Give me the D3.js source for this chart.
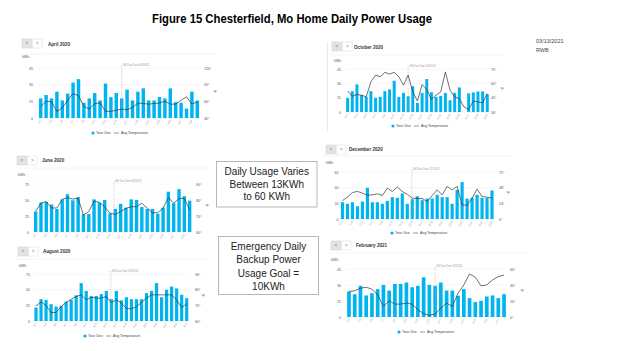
<!DOCTYPE html>
<html><head><meta charset="utf-8">
<script src="https://cdn.jsdelivr.net/npm/d3@7"></script>
<style>body{margin:0;background:#fff}svg{display:block}</style>
</head><body><svg id="c" width="624" height="351"></svg>
<script>
// ---------- DATA ----------
const aprilUse = [17.6,20.7,17.6,23.7,15.8,21.9,31.9,35,13.7,17.6,22.5,15.8,31,18.8,22.5,17.6,25.5,15.8,23.7,26.7,15.8,15.8,18.8,17.6,26.7,14.3,13.7,8.5,23.7,15.8];
const aprilTemp = [51,60,59,42,48,62,74,70,51,46,56,57,42,42,44,46,45,49,57,56,55,56,57,60,55,55,62,68,55,59];
const aprilUseTicks = [0,15,30,45];
const aprilTempTicks = [30,60,90,120];

const juneUse = [32,46,47,43,36,51,59,49.5,54.7,27.6,28,51,46,50,29,36,44,38,51,50,39,36,36,28.6,38,63,45,67,56,49];
const juneTemp = [73,78,79,75,75,80.4,81.5,80.6,81,70.6,72.7,79.4,78.5,75.8,71.7,71,72.7,74.8,75.8,75.8,78,75,72,72,75,81.5,78,81,81,73.7];
const juneUseTicks = [0,25,50,75];
const juneTempTicks = [60,70,80,90];

const augustUse = [21.4,34.8,33.7,26.8,23,24,31,33.7,41,60.5,48,39.6,40,43,48,35,48,33,38,34.8,34.8,34.8,44.5,48,60.5,38,49.8,55,52,41.8,36.4];
const augustTemp = [69.6,72.2,69.9,65.4,65.4,69.2,71.8,73.9,75.6,76.7,73.5,75.2,74.6,74.6,75.6,71.8,73.5,71.4,68,67.7,69.2,71.8,74.6,76.7,76.7,76.7,76.7,76.7,73.5,68.6,71];
const augustUseTicks = [0,25,50,75];
const augustTempTicks = [60,70,80,90];

const octoberUse = [14.8,21.8,28.8,17.6,15.8,21.8,14.8,15.8,21.8,23.6,32.7,15.8,20,16.5,27,9.5,20,34.5,20.7,15.8,16.9,20,12.3,20,25.7,0,19.5,20.5,21.5,21.5,18.5];
const octoberTemp = [52,46.5,48.3,47.6,45.8,61.6,68.6,66.9,71.5,69.7,71.5,66.9,58,68.6,51,41.6,58.8,53.6,43,47.6,51,72,52.8,45.8,44,35.3,32.5,41.6,40.5,39.5,49.3];
const octoberUseTicks = [0,15,30,45];
const octoberTempTicks = [30,45,60,75];

const decemberUse = [21.4,19.3,21.4,16.3,22.3,39.9,21.4,21.4,19.3,23.1,27.9,27,32.6,19.3,25.3,29.1,24,26.1,26.1,30.9,27.9,27.9,19.3,37.3,47.1,26.1,27,30.9,27,27,36.4];
const decemberTemp = [28.3,33.4,40.6,42.2,39.6,36.5,37,38.6,36,47.3,42.2,48.9,42.2,38,31.9,31.4,31.4,26.7,36,44.7,37,49.9,44.7,49.9,21.6,21,31.9,45.8,34.5,33.4,31.9];
const decemberUseTicks = [0,20,40,60];
const decemberTempTicks = [0,24,48,72];

const februaryUse = [23.9,21.4,29.2,20.2,22.3,26.1,30.1,24.8,31,31,32.3,27.9,29.2,37.2,30.1,29.2,32.3,24.8,24.8,19.9,26.1,17.7,14,15.2,19.2,20.2,17.7,21.4];
const februaryTemp = [31.9,32.7,36,37.2,34.8,27.7,13.2,20.3,16.1,16.1,17.4,16.1,9.1,4.1,2.1,3.7,11.2,17.4,13.2,29.8,40.1,53.8,49.7,38.9,40.1,46.3,50.5,52.5];
const februaryUseTicks = [0,15,30,45];
const februaryTempTicks = [0,20,40,60];

const legendLabels = ["Your Use","Avg Temperature"];
const boxText1 = ["Daily Usage Varies","Between 13KWh","to 60 KWh"];
const boxText2 = ["Emergency Daily","Backup Power","Usage Goal =","10KWh"];

// ---------- LAYOUT ----------
const BAR = "#00b5ef";
const svg = d3.select("#c");
const dayLabels = (m, n) => d3.range(1, n + 1).map(d => m + "/" + d);

const panels = [
 {name:"April 2020", use:aprilUse, temp:aprilTemp, ut:aprilUseTicks, tt:aprilTempTicks, m:4, bill:"Bill Due Date 04/16/20",
  x0:38, x1:200, yTop:68, yBot:118, lx:33, rx:204, kwh:[22,58], nav:[22,39], title:[48,45.8], sepY:54, sep:[20,216], f:[213,93], billI:15, legY:133, legX:93, bg:[14,33,206,110]},
 {name:"October 2020", use:octoberUse, temp:octoberTemp, ut:octoberUseTicks, tt:octoberTempTicks, m:10, bill:"Bill Due Date 10/14/20",
  x0:345.3, x1:489.6, yTop:69, yBot:112, lx:341, rx:491, kwh:[334,62], nav:[332,42], title:[354,49], sepY:55, sep:[330,506], f:[500,90], billI:13, legY:126, legX:393, bg:[327,36,190,102]},
 {name:"June 2020", use:juneUse, temp:juneTemp, ut:juneUseTicks, tt:juneTempTicks, m:6, bill:"Bill Due Date 06/16/20",
  x0:33, x1:192.3, yTop:184, yBot:232, lx:29, rx:196, kwh:[18,175.5], nav:[17,156], title:[42,161.8], sepY:168, sep:[14,210], f:[205,207], billI:14.75, legY:null, bg:[10,150,205,100]},
 {name:"December 2020", use:decemberUse, temp:decemberTemp, ut:decemberUseTicks, tt:decemberTempTicks, m:12, bill:"Bill Due Date 12/15/20",
  x0:340, x1:494.5, yTop:172, yBot:219, lx:338.5, rx:499, kwh:[326,163.5], nav:[326,145], title:[349,150.8], sepY:156, sep:[322,512], f:[506,194], billI:13.9, legY:233, legX:392, bg:[318,140,200,100]},
 {name:"August 2020", use:augustUse, temp:augustTemp, ut:augustUseTicks, tt:augustTempTicks, m:8, bill:"Bill Due Date 08/16/20",
  x0:33.5, x1:189.2, yTop:274, yBot:321, lx:30, rx:195, kwh:[19,266.5], nav:[18,247], title:[43,253], sepY:259, sep:[15,208], f:[201,297], billI:14.9, legY:336, legX:85, bg:[12,242,200,104]},
 {name:"February 2021", use:februaryUse, temp:februaryTemp, ut:februaryUseTicks, tt:februaryTempTicks, m:2, bill:"Bill Due Date 02/16/21",
  x0:346.1, x1:506.9, yTop:269, yBot:317, lx:341, rx:510, kwh:[331,260.5], nav:[331,241], title:[356,246.8], sepY:253, sep:[326,526], f:[520,292], billI:15, legY:332, legX:399, bg:[322,238,210,104]}
];

function drawPanel(p) {
  const g = svg.append("g");
  g.append("rect").attr("x", p.bg[0]).attr("y", p.bg[1]).attr("width", p.bg[2]).attr("height", p.bg[3]).attr("fill", "#fff");
  g.append("rect").attr("x", p.nav[0]).attr("y", p.nav[1]).attr("width", 9.5).attr("height", 9).attr("fill", "#e3e3e3").attr("stroke", "#d0d0d0").attr("stroke-width", 0.5);
  g.append("rect").attr("x", p.nav[0] + 10.5).attr("y", p.nav[1]).attr("width", 9.5).attr("height", 9).attr("fill", "#fff").attr("stroke", "#d8d8d8").attr("stroke-width", 0.5);
  g.append("text").attr("x", p.nav[0] + 4.75).attr("y", p.nav[1] + 6).attr("text-anchor", "middle").attr("font-size", 4.5).attr("fill", "#666").attr("font-family", "Liberation Sans").text("<");
  g.append("text").attr("x", p.nav[0] + 15.25).attr("y", p.nav[1] + 6).attr("text-anchor", "middle").attr("font-size", 4.5).attr("fill", "#666").attr("font-family", "Liberation Sans").text(">");
  g.append("text").attr("x", p.title[0]).attr("y", p.title[1]).attr("font-size", 4.6).attr("font-weight", "bold").attr("fill", "#333").attr("font-family", "Liberation Sans").text(p.name);
  g.append("line").attr("x1", p.sep[0]).attr("x2", p.sep[1]).attr("y1", p.sepY).attr("y2", p.sepY).attr("stroke", "#eeeeee").attr("stroke-width", 0.6);
  g.append("text").attr("x", p.kwh[0]).attr("y", p.kwh[1]).attr("font-size", 3.6).attr("fill", "#555").attr("font-family", "Liberation Sans").text("kWh");

  const days = dayLabels(p.m, p.use.length);
  const x = d3.scaleBand().domain(days).range([p.x0, p.x1]).paddingInner(0.36).paddingOuter(0.18);
  const y = d3.scaleLinear().domain([p.ut[0], p.ut[p.ut.length - 1]]).range([p.yBot, p.yTop]);
  const yt = d3.scaleLinear().domain([p.tt[0], p.tt[p.tt.length - 1]]).range([p.yBot, p.yTop]);

  g.append("g").selectAll("line").data(p.ut).join("line")
    .attr("x1", p.x0).attr("x2", p.x1).attr("y1", d => y(d)).attr("y2", d => y(d))
    .attr("stroke", (d, i) => i === 0 ? "#d8d8d8" : "#ececec").attr("stroke-width", 0.5);

  const la = g.append("g").attr("transform", `translate(${p.lx},0)`).call(d3.axisLeft(y).tickValues(p.ut).tickSize(0).tickPadding(0));
  la.select(".domain").remove();
  la.selectAll("text").attr("font-size", 3.6).attr("fill", "#555").attr("font-family", "Liberation Sans");
  const ra = g.append("g").attr("transform", `translate(${p.rx},0)`).call(d3.axisRight(yt).tickValues(p.tt).tickSize(0).tickPadding(0).tickFormat(d => d + "°"));
  ra.select(".domain").remove();
  ra.selectAll("text").attr("font-size", 3.6).attr("fill", "#555").attr("font-family", "Liberation Sans");
  g.append("text").attr("x", p.f[0]).attr("y", p.f[1]).attr("font-size", 3.6).attr("fill", "#555").attr("font-family", "Liberation Sans").text("°F");

  g.append("g").selectAll("rect").data(p.use).join("rect")
    .attr("x", (d, i) => x(days[i])).attr("width", x.bandwidth())
    .attr("y", d => y(d)).attr("height", d => y(0) - y(d)).attr("fill", BAR);

  const bx = x(days[0]) + x.bandwidth() / 2 + p.billI * x.step();
  g.append("line").attr("x1", bx).attr("x2", bx).attr("y1", p.yTop - 3).attr("y2", p.yBot)
    .attr("stroke", "#c99a9a").attr("stroke-width", 0.5).attr("stroke-dasharray", "1.2,0.8");
  g.append("text").attr("x", bx + 1.5).attr("y", p.yTop - 2.5).attr("font-size", 2.6).attr("fill", "#999").attr("font-family", "Liberation Sans").text(p.bill);

  const line = d3.line().x((d, i) => x(days[i]) + x.bandwidth() / 2).y(d => yt(d));
  g.append("path").datum(p.temp).attr("d", line).attr("fill", "none").attr("stroke", "#333").attr("stroke-width", 0.7);

  const xa = g.append("g").attr("transform", `translate(0,${p.yBot + 2})`)
    .call(d3.axisBottom(x).tickValues(days.filter((d, i) => i % 2 === 0)).tickSize(0).tickPadding(0).tickFormat(d => d));
  xa.select(".domain").remove();
  xa.selectAll("text").attr("font-size", 2.6).attr("fill", "#999").attr("font-family", "Liberation Sans")
    .attr("text-anchor", "end").attr("dy", "0.3em").attr("transform", "rotate(-60)");

  if (p.legY !== null) {
    const lg = g.append("g").attr("font-family", "Liberation Sans").attr("font-size", 3.6).attr("fill", "#444");
    lg.append("circle").attr("cx", p.legX).attr("cy", p.legY).attr("r", 1.6).attr("fill", BAR);
    lg.append("text").attr("x", p.legX + 3).attr("y", p.legY + 1.3).text(legendLabels[0]);
    lg.append("line").attr("x1", p.legX + 21).attr("x2", p.legX + 26).attr("y1", p.legY).attr("y2", p.legY).attr("stroke", "#555").attr("stroke-width", 0.6);
    lg.append("text").attr("x", p.legX + 28).attr("y", p.legY + 1.3).text(legendLabels[1]);
  }
}
panels.forEach(drawPanel);

svg.append("line").attr("x1", 327.5).attr("x2", 327.5).attr("y1", 42).attr("y2", 131).attr("stroke", "#e2e2e2").attr("stroke-width", 0.8);

svg.append("text").attr("x", 292).attr("y", 23).attr("text-anchor", "middle")
  .attr("font-family", "Liberation Sans").attr("font-weight", "bold").attr("font-size", 12.5)
  .attr("textLength", 280).attr("lengthAdjust", "spacingAndGlyphs").attr("fill", "#000")
  .text("Figure 15 Chesterfield, Mo Home Daily Power Usage");
svg.append("text").attr("x", 536).attr("y", 43).attr("font-family", "Liberation Sans").attr("font-size", 5.5).attr("fill", "#444").text("03/13/2021");
svg.append("text").attr("x", 536).attr("y", 52).attr("font-family", "Liberation Sans").attr("font-size", 5.5).attr("fill", "#444").text("RWB");

function box(x, y, w, h, lines, baseY, lh) {
  svg.append("rect").attr("x", x).attr("y", y).attr("width", w).attr("height", h).attr("fill", "#fff").attr("stroke", "#a6a6a6").attr("stroke-width", 0.8);
  svg.append("g").selectAll("text").data(lines).join("text")
    .attr("x", x + w / 2).attr("y", (d, i) => baseY + i * lh).attr("text-anchor", "middle")
    .attr("font-family", "Liberation Sans").attr("font-size", 10).attr("fill", "#222").text(d => d);
}
box(216.5, 161.5, 100.5, 45.5, boxText1, 175, 12.5);
box(218.5, 236.5, 100, 58, boxText2, 250, 13.3);
</script></body></html>
